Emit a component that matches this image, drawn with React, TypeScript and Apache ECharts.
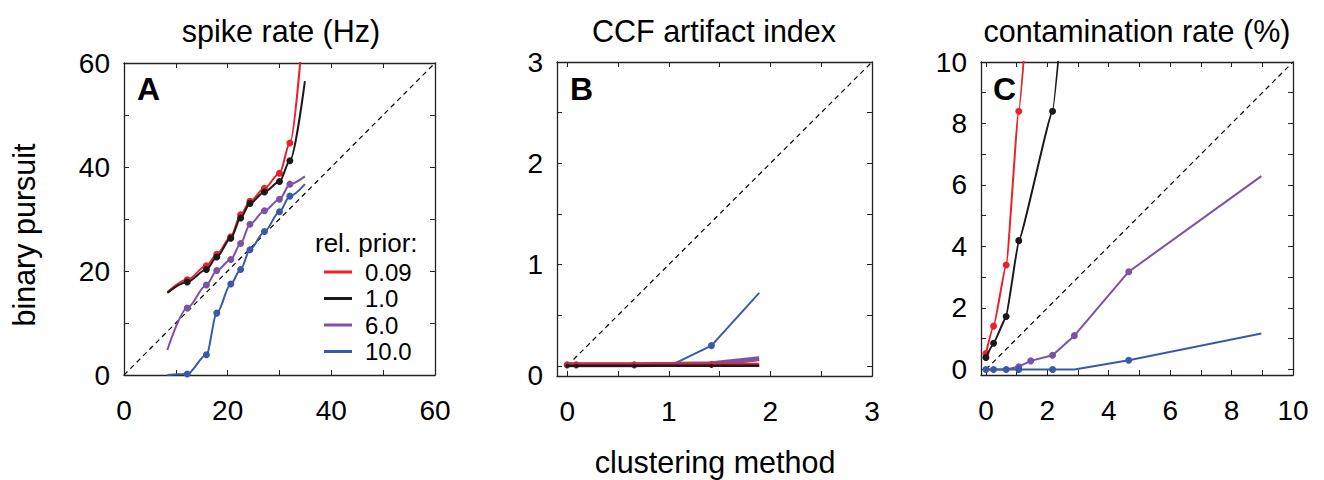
import React, { useEffect, useRef } from "react";
import * as echarts from "echarts";

const FONT = "'Liberation Sans', Arial, Helvetica, sans-serif";

const RED = "#e8212b";
const BLACK = "#1a1a1a";
const PURPLE = "#7b52a5";
const BLUE = "#3a5aa8";

// legend / series names (relative prior)
const priors = ["0.09", "1.0", "6.0", "10.0"];

// Panel A: spike rate (Hz)
const aX = [8.36, 12.2, 15.9, 17.9, 20.6, 22.5, 24.3, 27.1, 30.0, 32.0, 34.9];
const aRed = [15.9, 18.3, 21.0, 23.2, 26.6, 30.8, 33.4, 35.9, 38.8, 44.6, 71.0];
const aBlack = [15.8, 17.9, 20.3, 22.7, 26.3, 30.2, 33.0, 35.2, 37.2, 41.2, 56.5];
const aPurple = [4.8, 12.9, 17.3, 20.1, 22.2, 25.3, 29.0, 31.6, 33.8, 36.7, 38.2];
const aBlue = [0.0, 0.2, 3.9, 11.9, 17.5, 20.3, 24.1, 27.6, 31.4, 34.4, 36.7];
const aDots = [1, 2, 3, 4, 5, 6, 7, 8, 9];

// Panel B: CCF artifact index
const bX = [0, 0.09, 0.66, 1.07, 1.42, 1.89];
const bRed = [0.01, 0.01, 0.01, 0.01, 0.01, 0.01];
const bBlack = [0.0, 0.0, 0.0, 0.0, 0.0, 0.0];
const bPurple = [0.01, 0.01, 0.01, 0.015, 0.02, 0.07];
const bBlue = [0.01, 0.01, 0.01, 0.03, 0.2, 0.72];
const bDots = [0, 1, 2, 4];

// Panel C: contamination rate (%)
const cRedX = [0, 0.25, 0.66, 1.07, 1.46];
const cRed = [0.52, 1.41, 3.4, 8.4, 13.2];
const cRedDots = [0, 1, 2, 3];
const cBlackX = [0, 0.25, 0.66, 1.07, 2.17, 2.88];
const cBlack = [0.39, 0.85, 1.72, 4.19, 8.4, 16.0];
const cBlackDots = [0, 1, 2, 3, 4];
const cPurpleX = [0, 0.25, 0.66, 1.07, 1.46, 2.17, 2.88, 4.65, 8.97];
const cPurple = [0, 0, 0, 0.09, 0.28, 0.46, 1.1, 3.18, 6.29];
const cPurpleDots = [3, 4, 5, 6, 7];
const cBlueX = [0, 0.25, 0.66, 1.07, 2.17, 2.88, 4.65, 8.97];
const cBlue = [0, 0, 0, 0, 0, 0, 0.3, 1.17];
const cBlueDots = [0, 1, 2, 3, 4, 6];

// axis ranges and ticks
const aRange = [0, 60];
const aTicks = [0, 10, 20, 30, 40, 50, 60];
const aLabels = [0, 20, 40, 60];
const bRange = [-0.1, 3];
const bTicks = [0, 0.5, 1, 1.5, 2, 2.5, 3];
const bLabels = [0, 1, 2, 3];
const cRangeX = [-0.16, 10];
const cRangeY = [-0.18, 10];
const cTicks = [0, 1, 2, 3, 4, 5, 6, 7, 8, 9, 10];
const cLabels = [0, 2, 4, 6, 8, 10];

const axis = (
  kind: "x" | "y",
  gridIndex: number,
  range: number[],
  ticks: number[],
  labels: number[],
  main: boolean,
  extraLabel: any = {}
) => ({
  type: "value",
  gridIndex,
  min: range[0],
  max: range[1],
  position: kind === "x" ? (main ? "bottom" : "top") : main ? "left" : "right",
  axisLine: { show: true, onZero: false, lineStyle: { color: "#222", width: 1.3 } },
  axisTick: {
    show: true,
    inside: true,
    length: 5,
    customValues: ticks,
    lineStyle: { color: "#222", width: 1 },
  },
  axisLabel: main
    ? {
        show: true,
        customValues: labels,
        fontSize: 28,
        fontFamily: FONT,
        color: "#000",
        margin: kind === "x" ? 21 : 14,
        ...extraLabel,
      }
    : { show: false },
  splitLine: { show: false },
});

const pts = (xs: number[], ys: number[], dots: number[]) =>
  xs.map((x, i) => ({ value: [x, ys[i]], symbol: dots.includes(i) ? "circle" : "none" }));

const line = (
  name: string,
  idx: number,
  xs: number[],
  ys: number[],
  dots: number[],
  color: string,
  width: number,
  size: number,
  smooth: number | boolean,
  z: number
) => ({
  type: "line",
  name,
  xAxisIndex: idx,
  yAxisIndex: idx,
  data: pts(xs, ys, dots),
  symbol: "circle",
  symbolSize: size,
  showSymbol: true,
  showAllSymbol: true,
  smooth,
  smoothMonotone: "x",
  clip: true,
  lineStyle: { color, width },
  itemStyle: { color },
  z,
  emphasis: { disabled: true },
});

const diag = (idx: number, lo: number, hi: number) => ({
  type: "line",
  name: "unity",
  xAxisIndex: idx,
  yAxisIndex: idx,
  data: [
    [lo, lo],
    [hi, hi],
  ],
  symbol: "none",
  lineStyle: { color: "#000", width: 1.2, type: [5, 4] },
  silent: true,
  z: 1,
});

const text = (t: string, x: number, y: number, size: number, extra: any = {}) => ({
  type: "text",
  x,
  y,
  style: {
    text: t,
    fontSize: size,
    fontFamily: FONT,
    fill: "#000",
    align: "center",
    verticalAlign: "middle",
    ...extra,
  },
});

const option = {
  animation: false,
  grid: [
    { left: 124, top: 63, width: 311, height: 312 },
    { left: 557, top: 62, width: 315, height: 314 },
    { left: 981, top: 62, width: 312, height: 313 },
  ],
  xAxis: [
    axis("x", 0, aRange, aTicks, aLabels, true),
    axis("x", 0, aRange, aTicks, aLabels, false),
    axis("x", 1, bRange, bTicks, bLabels, true),
    axis("x", 1, bRange, bTicks, bLabels, false),
    axis("x", 2, cRangeX, cTicks, cLabels, true),
    axis("x", 2, cRangeX, cTicks, cLabels, false),
  ],
  yAxis: [
    axis("y", 0, aRange, aTicks, aLabels, true),
    axis("y", 0, aRange, aTicks, aLabels, false),
    axis("y", 1, bRange, bTicks, bLabels, true, {
      formatter: (v: number) => (v === 0 ? "{lo|0}" : String(v)),
      rich: {
        lo: { fontSize: 28, fontFamily: FONT, color: "#000", padding: [20, 0, 0, 0] },
      },
    }),
    axis("y", 1, bRange, bTicks, bLabels, false),
    axis("y", 2, cRangeY, cTicks, cLabels, true),
    axis("y", 2, cRangeY, cTicks, cLabels, false),
  ],
  legend: {
    data: priors,
    orient: "vertical",
    left: 319,
    top: 255,
    icon: "rect",
    itemWidth: 28,
    itemHeight: 3,
    itemGap: 2.5,
    selectedMode: false,
    textStyle: {
      fontSize: 24,
      fontFamily: FONT,
      color: "#000",
      lineHeight: 22,
      padding: [0, 0, 0, 8],
    },
  },
  series: [
    diag(0, 0, 60),
    diag(2, 0, 3),
    diag(4, 0, 10),
    // A
    line(priors[2], 0, aX, aPurple, aDots, PURPLE, 2, 7, 0.3, 3),
    line(priors[3], 0, aX, aBlue, aDots, BLUE, 2, 7, 0.3, 4),
    line(priors[0], 0, aX, aRed, aDots, RED, 2, 7, 0.3, 5),
    line(priors[1], 0, aX, aBlack, aDots, BLACK, 2, 7, 0.3, 6),
    // B
    line(priors[3], 2, bX, bBlue, bDots, BLUE, 2, 7, false, 3),
    line(priors[2], 2, bX, bPurple, bDots, PURPLE, 5, 6, false, 4),
    line(priors[0], 2, bX, bRed, bDots, RED, 4, 6, false, 5),
    line(priors[1], 2, bX, bBlack, bDots, BLACK, 2.5, 4, false, 6),
    // C
    line(priors[0], 4, cRedX, cRed, cRedDots, RED, 2, 7, 0.15, 3),
    line(priors[1], 4, cBlackX, cBlack, cBlackDots, BLACK, 2, 7, 0.1, 4),
    line(priors[2], 4, cPurpleX, cPurple, cPurpleDots, PURPLE, 2, 7, false, 5),
    line(priors[3], 4, cBlueX, cBlue, cBlueDots, BLUE, 2, 7, false, 6),
  ],
  graphic: [
    text("spike rate (Hz)", 281, 31, 30.5),
    text("CCF artifact index", 714, 31, 30.5),
    text("contamination rate (%)", 1137, 31, 30.5),
    text("clustering method", 715, 462, 30.5),
    {
      type: "text",
      x: 24,
      y: 235,
      rotation: Math.PI / 2,
      style: {
        text: "binary pursuit",
        fontSize: 30.5,
        fontFamily: FONT,
        fill: "#000",
        align: "center",
        verticalAlign: "middle",
      },
    },
    text("A", 137, 89, 32, { align: "left", fontWeight: "bold" }),
    text("B", 570, 89, 32, { align: "left", fontWeight: "bold" }),
    text("C", 993, 89, 32, { align: "left", fontWeight: "bold" }),
    text("rel. prior:", 315, 243, 26, { align: "left" }),
  ],
};

export default function App() {
  const ref = useRef<HTMLDivElement>(null);
  useEffect(() => {
    const chart = echarts.init(ref.current!, null, { renderer: "svg" });
    chart.setOption(option as any);
    return () => chart.dispose();
  }, []);
  return (
    <div
      ref={ref}
      style={{ position: "fixed", left: 0, top: 0, width: 1324, height: 480, background: "#fff" }}
    />
  );
}
